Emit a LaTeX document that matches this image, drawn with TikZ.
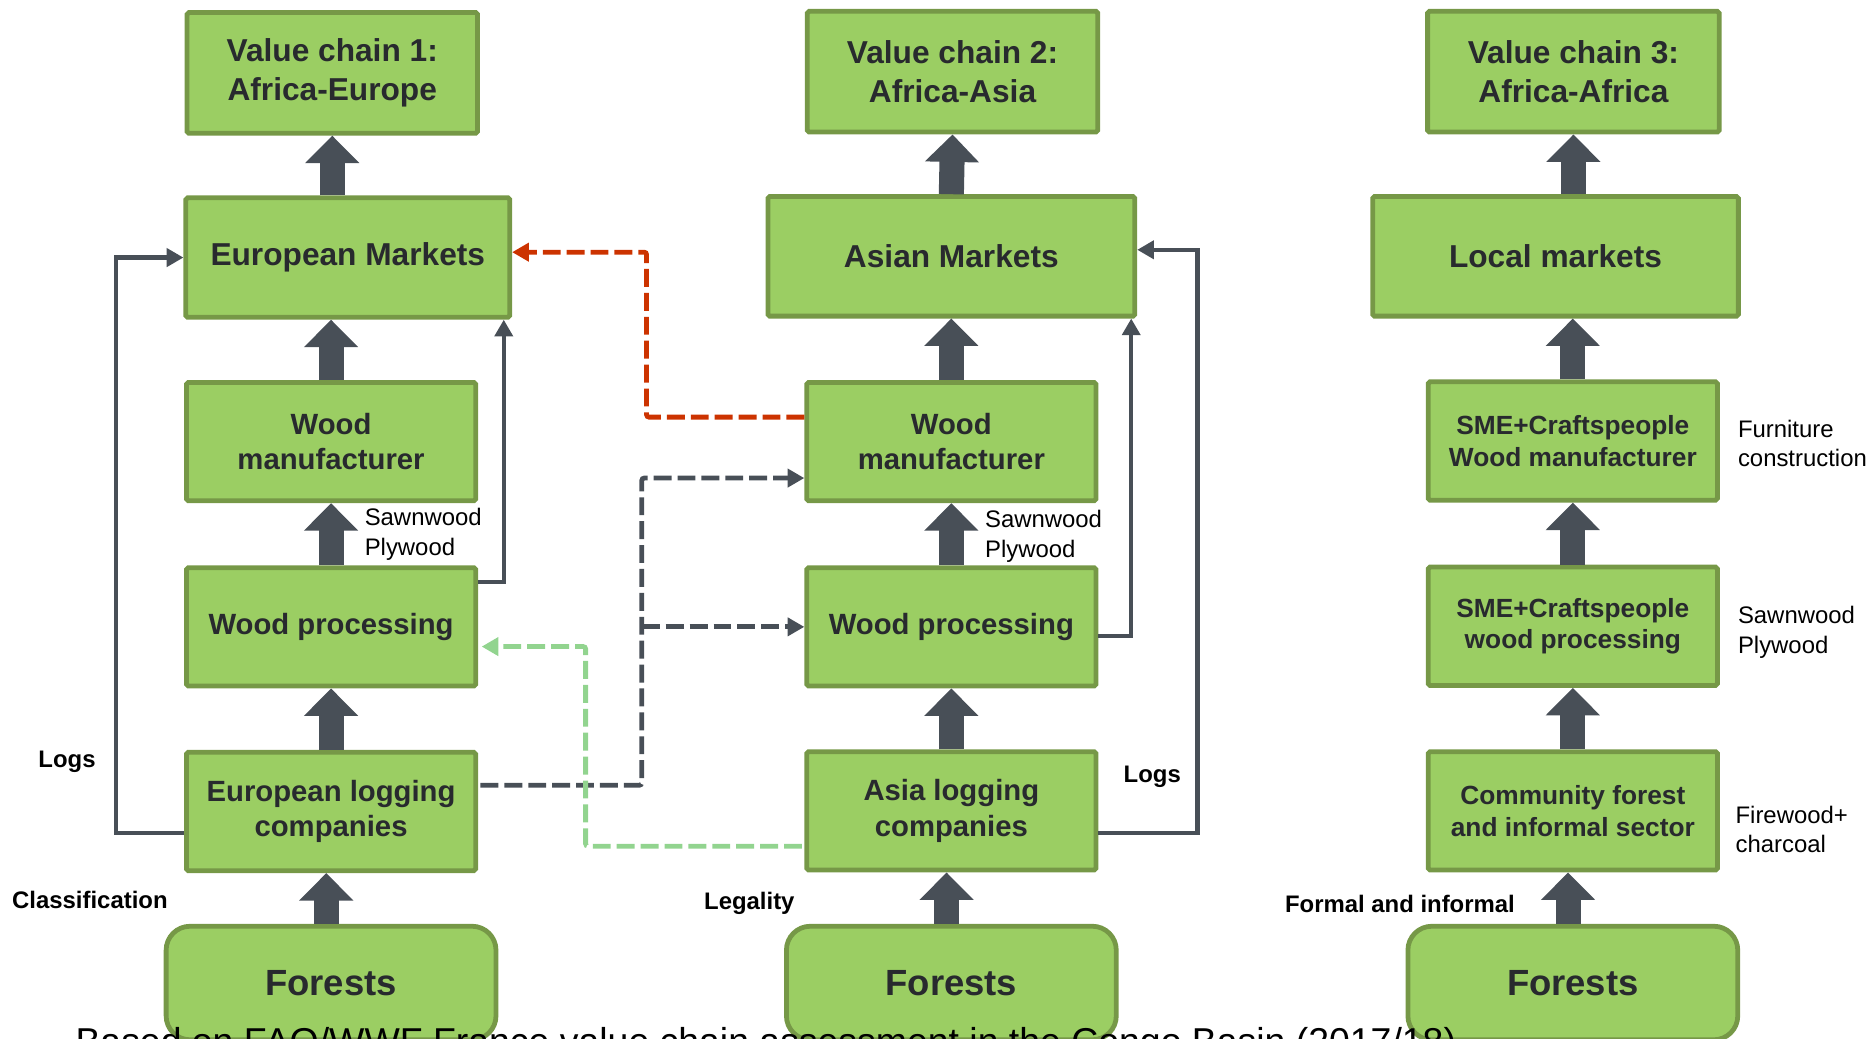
\documentclass[tikz,border=0pt]{standalone}
\usepackage{fontspec}
\setmainfont{Liberation Sans}
\usetikzlibrary{arrows.meta,calc}
\definecolor{boxfill}{HTML}{9BCE63}
\definecolor{boxline}{HTML}{769847}
\definecolor{txt}{HTML}{282A2E}
\definecolor{arr}{HTML}{484F57}
\definecolor{redd}{HTML}{CC3300}
\definecolor{grnd}{HTML}{92D48F}
\begin{document}
\begin{tikzpicture}[x=1pt,y=-1pt,
 box/.style={draw=boxline, fill=boxfill, line width=4pt, rounded corners=1.5pt, inner sep=0pt, align=center, text=txt,
   minimum width=242pt, minimum height=99pt, font=\bfseries\fontsize{24.5}{29.4}\selectfont},
 bigbox/.style={box, font=\bfseries\fontsize{26.5}{32.5}\selectfont},
 smbox/.style={box, font=\bfseries\fontsize{22}{26.6}\selectfont},
 forest/.style={box, rounded corners=20pt, minimum width=276pt, minimum height=95pt, font=\bfseries\fontsize{30.5}{36}\selectfont},
 bigarrow/.style={draw=arr, line width=21pt, -{Triangle[length=23pt,width=44pt]}},
 conn/.style={draw=arr, line width=3.7pt, -{Triangle[length=14pt,width=15pt]}},
 dconn/.style={conn, line width=4pt, dash pattern=on 15pt off 5pt, rounded corners=2pt},
 lab/.style={anchor=west, inner sep=0pt, align=left, font=\fontsize{20}{25}\selectfont},
 blab/.style={anchor=west, inner sep=0pt, font=\bfseries\fontsize{20}{24}\selectfont},
]
\useasboundingbox (0,0) rectangle (1568,869);
\clip (0,0) rectangle (1568,869);

% ---------- chain 1 ----------
\node[bigbox, minimum width=243pt, minimum height=101pt] (vc1) at (278,61) {Value chain 1:\\Africa-Europe};
\node[bigbox, minimum width=271pt, minimum height=100pt] (em) at (291,215.5) {European Markets};
\node[box] (wm1) at (277,369.5) {Wood\\manufacturer};
\node[box] (wp1) at (277,524.5) {Wood processing};
\node[box] (elc) at (277,679) {European logging\\companies};
\node[forest] (for1) at (277,822.5) {Forests};

% ---------- chain 2 ----------
\node[bigbox, minimum width=243pt, minimum height=101pt] (vc2) at (797,60) {Value chain 2:\\Africa-Asia};
\node[bigbox, minimum width=307pt, minimum height=100pt] (am) at (796,214.5) {Asian Markets};
\node[box] (wm2) at (796,369.5) {Wood\\manufacturer};
\node[box] (wp2) at (796,524.5) {Wood processing};
\node[box] (alc) at (796,678.5) {Asia logging\\companies};
\node[forest] (for2) at (796,822.5) {Forests};

% ---------- chain 3 ----------
\node[bigbox, minimum width=244pt, minimum height=101pt] (vc3) at (1316.5,60) {Value chain 3:\\Africa-Africa};
\node[bigbox, minimum width=306pt, minimum height=100pt] (lm) at (1301.5,214.5) {Local markets};
\node[smbox] (sm) at (1316,369) {SME+Craftspeople\\Wood manufacturer};
\node[smbox] (sp) at (1316,524) {SME+Craftspeople\\wood processing};
\node[smbox] (cf) at (1316,678.5) {Community forest\\and informal sector};
\node[forest] (for3) at (1316,822.5) {Forests};

% ---------- big arrows ----------
\draw[bigarrow] (em.north -| vc1.south) -- (vc1.south);
\draw[bigarrow] (wm1.north) -- (wm1.north |- em.south);
\draw[bigarrow] (wp1.north) -- (wm1.south);
\draw[bigarrow] (elc.north) -- (wp1.south);
\draw[bigarrow] ([xshift=-4pt]for1.north) -- ([xshift=-4pt]elc.south);

\draw[bigarrow] (am.north) -- (vc2.south);
\draw[bigarrow] (wm2.north) -- (am.south);
\draw[bigarrow] (wp2.north) -- (wm2.south);
\draw[bigarrow] (alc.north) -- (wp2.south);
\draw[bigarrow] ([xshift=-4pt]for2.north) -- ([xshift=-4pt]alc.south);

\draw[bigarrow] (lm.north -| vc3.south) -- (vc3.south);
\draw[bigarrow] (sm.north) -- (sm.north |- lm.south);
\draw[bigarrow] (sp.north) -- (sm.south);
\draw[bigarrow] (cf.north) -- (sp.south);
\draw[bigarrow] ([xshift=-4pt]for3.north) -- ([xshift=-4pt]cf.south);

% ---------- solid connectors ----------
\draw[conn] ([yshift=-18pt]elc.west) -- ++(-57,0) |- (em.west);
\draw[conn] ([yshift=-14pt]wp1.north east) -| ([xshift=-7pt]em.south east);
\draw[conn] ([yshift=-18.5pt]alc.east) -- ++(83,0) |- ([yshift=5.5pt]am.east);
\draw[conn] ([yshift=-7.5pt]wp2.east) -| ([xshift=-5pt]am.south east);

% ---------- dashed connectors ----------
\draw[dconn, draw=redd] ([yshift=20.5pt]wm2.west) -- ++(-132,0) |- ([yshift=4.5pt]em.east);
\coordinate (gj) at ([yshift=22pt,xshift=137pt]elc.east);
\draw[dconn] ([yshift=22pt,xshift=2pt]elc.east) -- (gj) |- ([yshift=-30.5pt]wm2.west);
\draw[dconn] (gj |- wp2.west) -- (wp2.west);
\draw[dconn, draw=grnd] ([yshift=-29.5pt,xshift=-2pt]alc.west) -- ++(-181,0) |- ([yshift=-16.5pt,xshift=3pt]wp1.east);

% ---------- labels ----------
\node[lab] (sw1) at (305,447) {Sawnwood\\Plywood};
\node[lab] (sw2) at (824,449) {Sawnwood\\Plywood};
\node[lab] (fc) at (1454,371) {Furniture\\construction};
\node[lab] (sw3) at (1454,529) {Sawnwood\\Plywood};
\node[lab] (fw) at (1452,694) {Firewood+\\charcoal};
\node[blab] (lg1) at (32,637) {Logs};
\node[blab] (lg2) at (940,650) {Logs};
\node[blab] (cl) at (10,753) {Classification};
\node[blab] (le) at (589,756) {Legality};
\node[blab] (fi) at (1075,756) {Formal and informal};

\node[anchor=base west, inner sep=0pt, font=\fontsize{31.3}{37}\selectfont] (src) at (63,882)
  {Based on FAO/WWF France value chain assessment in the Congo Basin (2017/18)};
\end{tikzpicture}
\end{document}
